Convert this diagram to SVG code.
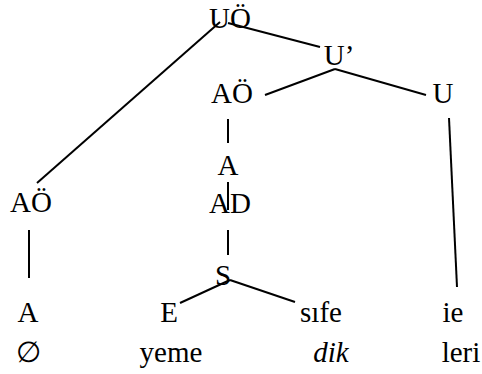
<svg xmlns="http://www.w3.org/2000/svg" width="482" height="374" viewBox="0 0 482 374">
<style>
text{font-size:29px;fill:#000;text-anchor:middle}
.it{font-style:italic}
line{stroke:#000;stroke-width:2;stroke-linecap:butt}
</style>
<rect width="482" height="374" fill="#fff"/>
<g id="connectors">
<line x1="220" y1="22" x2="37" y2="183"/>
<line x1="228" y1="23" x2="320" y2="47"/>
<line x1="335" y1="69" x2="265" y2="95"/>
<line x1="335" y1="69" x2="426" y2="95"/>
<line x1="228" y1="119" x2="228" y2="143"/>
<line x1="228" y1="182" x2="228" y2="210"/>
<line x1="228" y1="230" x2="228" y2="255"/>
<line x1="29" y1="230" x2="29" y2="278"/>
<line x1="230" y1="280" x2="180" y2="303"/>
<line x1="230" y1="280" x2="295" y2="302"/>
<line x1="449" y1="118" x2="457" y2="287"/>
</g>
<g font-family="Liberation Serif, DejaVu Serif, serif">
<g id="n-UO"><text x="230" y="28">UÖ</text></g>
<g id="n-U1"><text x="339" y="65">U’</text></g>
<g id="n-AO1"><text x="232" y="103">AÖ</text></g>
<g id="n-U"><text x="443" y="103">U</text></g>
<g id="n-A1"><text x="228" y="175">A</text></g>
<g id="n-AD"><text x="230" y="213">AD</text></g>
<g id="n-AO2"><text x="31" y="212">AÖ</text></g>
<g id="n-S"><text x="223" y="285">S</text></g>
<g id="n-A2"><text x="28" y="322">A</text></g>
<g id="n-E"><text x="169" y="322">E</text></g>
<g id="n-sife"><text x="321" y="322">sıfe</text></g>
<g id="n-ie"><text x="453" y="322">ie</text></g>
<g id="w-null"><text x="28" y="362">∅</text></g>
<g id="w-yeme"><text x="171" y="362">yeme</text></g>
<g id="w-dik"><text x="331" y="362" class="it">dik</text></g>
<g id="w-leri"><text x="461" y="362">leri</text></g>
</g>
</svg>
